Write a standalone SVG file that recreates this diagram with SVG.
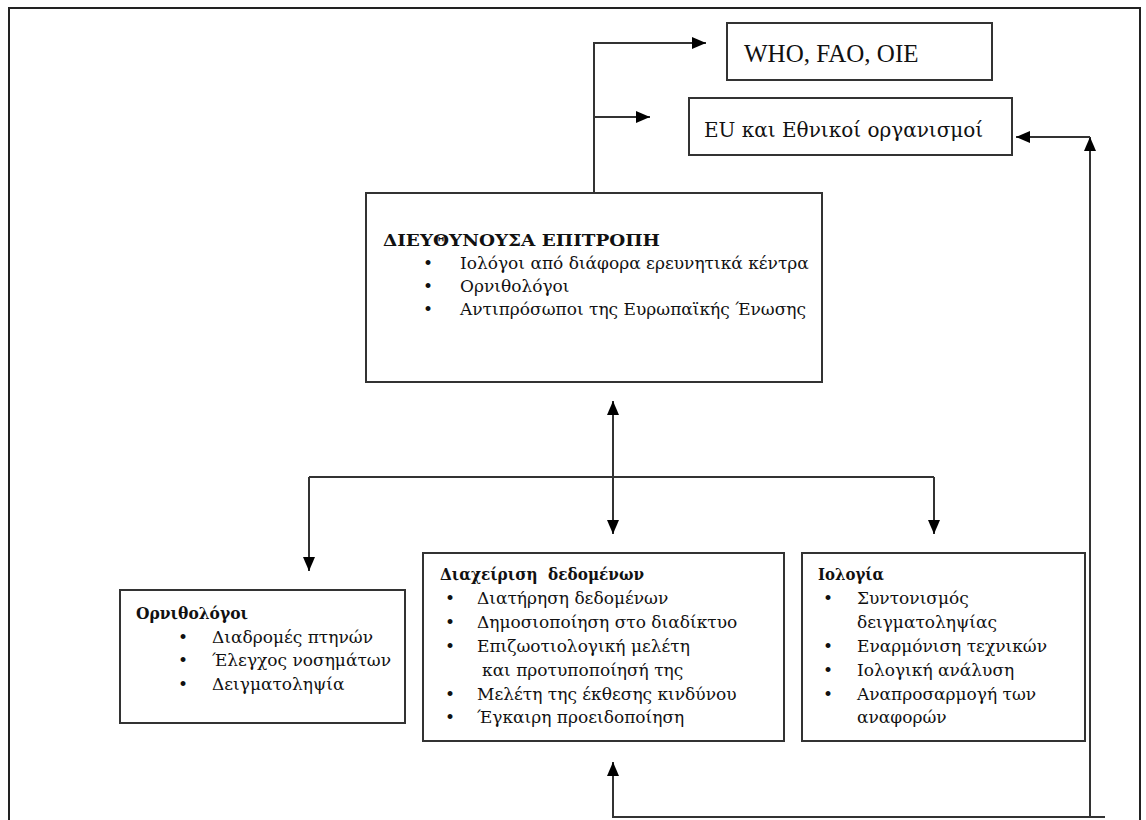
<svg xmlns="http://www.w3.org/2000/svg" width="1146" height="820" viewBox="0 0 1146 820">
<defs>
<marker id="ah" viewBox="0 0 14 12" refX="14" refY="6" markerWidth="14" markerHeight="12" markerUnits="userSpaceOnUse" orient="auto-start-reverse"><path d="M0,0 L14,6 L0,12 z" fill="#000"/></marker>
</defs>
<style>
.frame{fill:none;stroke:#222;stroke-width:2}
.box{fill:#fff;stroke:#333;stroke-width:2}
.ln{fill:none;stroke:#333;stroke-width:2}
.t{font-family:"DejaVu Serif","Liberation Serif",serif;font-size:17px;fill:#111}
.b{font-weight:bold}
.lat{font-family:"Liberation Serif","Times New Roman",serif;font-size:25px}
.eu{font-size:20px}
</style>
<rect width="1146" height="820" fill="#fff"/>
<path class="frame" d="M9,822 L9,8 L1140,8 L1140,822"/>
<g id="connectors">
<path class="ln" d="M594,193 L594,43 L706,43" marker-end="url(#ah)"/>
<path class="ln" d="M594,117 L650,117" marker-end="url(#ah)"/>
<path class="ln" d="M1090,817 L1090,137" marker-end="url(#ah)"/>
<path class="ln" d="M1090,137 L1016,137" marker-end="url(#ah)"/>
<path class="ln" d="M613,401 L613,534" marker-start="url(#ah)" marker-end="url(#ah)"/>
<path class="ln" d="M309,477 L934,477"/>
<path class="ln" d="M309,477 L309,571" marker-end="url(#ah)"/>
<path class="ln" d="M934,477 L934,534" marker-end="url(#ah)"/>
<path class="ln" d="M1105,817 L613,817 L613,762" marker-end="url(#ah)"/>
</g>
<g id="who">
<rect class="box" x="727" y="23" width="265" height="57"/>
<text class="t lat" x="744" y="62">WHO, FAO, OIE</text>
</g>
<g id="eu">
<rect class="box" x="689" y="98" width="323" height="57"/>
<text class="t eu" x="704" y="137">EU και Εθνικοί οργανισμοί</text>
</g>
<g id="steering">
<rect class="box" x="366" y="193" width="456" height="189"/>
<text class="t b" x="383" y="246" textLength="277" lengthAdjust="spacingAndGlyphs">ΔΙΕΥΘΥΝΟΥΣΑ ΕΠΙΤΡΟΠΗ</text>
<text class="t" x="423" y="269">•</text><text class="t" x="460" y="269">Ιολόγοι από διάφορα ερευνητικά κέντρα</text>
<text class="t" x="423" y="292">•</text><text class="t" x="460" y="292">Ορνιθολόγοι</text>
<text class="t" x="423" y="315">•</text><text class="t" x="460" y="315">Αντιπρόσωποι της Ευρωπαϊκής Ένωσης</text>
</g>
<g id="ornith">
<rect class="box" x="120" y="590" width="285" height="133"/>
<text class="t b" x="136" y="619" textLength="112" lengthAdjust="spacingAndGlyphs">Ορνιθολόγοι</text>
<text class="t" x="178" y="643">•</text><text class="t" x="212" y="643">Διαδρομές πτηνών</text>
<text class="t" x="178" y="666">•</text><text class="t" x="212" y="666">Έλεγχος νοσημάτων</text>
<text class="t" x="178" y="690">•</text><text class="t" x="212" y="690">Δειγματοληψία</text>
</g>
<g id="data">
<rect class="box" x="423" y="553" width="361" height="188"/>
<text class="t b" x="440" y="580" xml:space="preserve" textLength="204" lengthAdjust="spacingAndGlyphs">Διαχείριση  δεδομένων</text>
<text class="t" x="445" y="604">•</text><text class="t" x="477" y="604">Διατήρηση δεδομένων</text>
<text class="t" x="445" y="628">•</text><text class="t" x="477" y="628">Δημοσιοποίηση στο διαδίκτυο</text>
<text class="t" x="445" y="652">•</text><text class="t" x="477" y="652">Επιζωοτιολογική μελέτη</text>
<text class="t" x="482" y="676">και προτυποποίησή της</text>
<text class="t" x="445" y="700">•</text><text class="t" x="477" y="700">Μελέτη της έκθεσης κινδύνου</text>
<text class="t" x="445" y="723">•</text><text class="t" x="477" y="723">Έγκαιρη προειδοποίηση</text>
</g>
<g id="virology">
<rect class="box" x="802" y="553" width="283" height="188"/>
<text class="t b" x="818" y="580" textLength="66" lengthAdjust="spacingAndGlyphs">Ιολογία</text>
<text class="t" x="823" y="604">•</text><text class="t" x="857" y="604">Συντονισμός</text>
<text class="t" x="857" y="628">δειγματοληψίας</text>
<text class="t" x="823" y="652">•</text><text class="t" x="857" y="652">Εναρμόνιση τεχνικών</text>
<text class="t" x="823" y="676">•</text><text class="t" x="857" y="676">Ιολογική ανάλυση</text>
<text class="t" x="823" y="700">•</text><text class="t" x="857" y="700">Αναπροσαρμογή των</text>
<text class="t" x="857" y="723">αναφορών</text>
</g>
</svg>
